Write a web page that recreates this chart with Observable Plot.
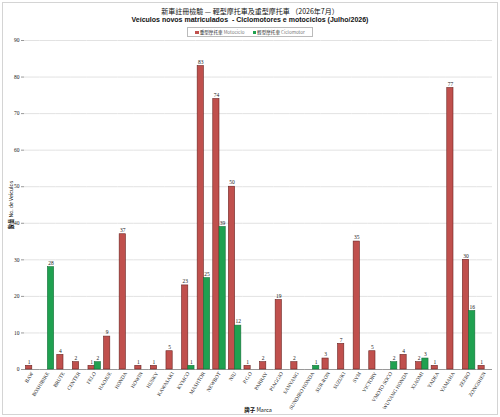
<!DOCTYPE html>
<html><head><meta charset="utf-8">
<script src="https://cdn.jsdelivr.net/npm/d3@7"></script>
<script src="https://cdn.jsdelivr.net/npm/@observablehq/plot@0.6"></script>
<style>
body{margin:0;background:#fff;}
#wrap{position:relative;width:500px;height:417px;overflow:hidden;background:#fff;}
#frame{position:absolute;left:2px;top:2px;width:494px;height:411px;border:1px solid #d4d4d4;}
.t{position:absolute;white-space:nowrap;text-align:center;}
#title{left:0;width:500px;top:6px;font:7px "Noto Sans CJK TC",serif;color:#111;}
#sub{left:0;width:500px;top:16px;font:bold 7px "Liberation Sans",Arial,sans-serif;color:#111;}
#legend{left:187px;top:27px;width:124px;height:8px;border:1px solid #bbb;font:4.6px "Noto Sans CJK TC",sans-serif;line-height:8px;color:#222;display:flex;justify-content:center;gap:8px;}
#legend .sw{display:inline-block;width:3.5px;height:3.5px;margin-right:1px;vertical-align:0px;}
#legend .lat{color:#777;}
#ylab{left:10px;top:205px;transform:translate(-50%,-50%) rotate(-90deg);font:5.2px "Noto Sans CJK TC",sans-serif;color:#111;}
#xlab{left:258px;top:410px;transform:translate(-50%,-50%);font:5.5px "Noto Sans CJK TC",sans-serif;color:#111;}
#chart{position:absolute;left:0;top:37px;}
#chart svg{overflow:visible;}
</style></head><body>
<div id="wrap">
<div id="frame"></div>
<div class="t" id="title">新車註冊檢驗 — 輕型摩托車及重型摩托車 （2026年7月）</div>
<div class="t" id="sub">Veículos novos matriculados&nbsp; - Ciclomotores e motociclos (Julho/2026)</div>
<div class="t" id="legend"></div>
<div class="t" id="ylab"><b>數量</b> No. de Veículos</div>
<div class="t" id="xlab"><b>牌子</b> Marca</div>
<div id="chart"></div>
</div>
<script>
const brands = ["BAW","BOSHIBIKE","BRUTE","CENTER","FELO","HAOJUE","HONDA","HOWIN","HUSKY","KAWASAKI","KYMCO","MASHTOR","NEWBOT","NIU","P.G.O","PARRAY","PIAGGIO","SANYANG","SUNDIRO HONDA","SUR-RON","SUZUKI","SYM","VICTORY","VMOTO SOCO","WUYANG HONDA","XIAOMI","YADEA","YAMAHA","ZEERO","ZONGSHEN"];
const motociclo = [1,null,4,2,1,9,37,1,1,5,23,83,74,50,1,2,19,2,null,3,7,35,5,null,4,2,1,77,30,1];
const ciclomotor = [null,28,null,null,2,null,null,null,null,null,1,25,39,12,null,null,null,null,1,null,null,null,null,2,null,3,null,null,16,null];
const seriesNames = ["Motociclo","Ciclomotor"];
const seriesZh = ["重型摩托車","輕型摩托車"];
const seriesColors = ["#c0504d","#1fa150"];
const seriesStroke = ["#6b2422","#17703a"];
const yTicks = [0,10,20,30,40,50,60,70,80,90];

const data = brands.flatMap((b,i)=>[
  {brand:b,type:seriesNames[0],value:motociclo[i]},
  {brand:b,type:seriesNames[1],value:ciclomotor[i]}
]).filter(d=>d.value!=null);

const leg = document.getElementById("legend");
seriesNames.forEach((s,i)=>{
  const sp = document.createElement("span");
  sp.innerHTML = `<span class="sw" style="background:${seriesColors[i]}"></span>${seriesZh[i]} <span class="lat">${s}</span>`;
  leg.appendChild(sp);
});

const plot = Plot.plot({
  width: 500, height: 372,
  marginTop: 3, marginLeft: 24, marginRight: 8, marginBottom: 40,
  style: {fontFamily: "'Liberation Serif', serif", fontSize: "5.5px", background: "transparent", color:"#222"},
  fx: {domain: brands, padding: 0, round: false, label: null},
  x: {domain: seriesNames, paddingInner: 0, paddingOuter: 0.25, round: false, axis: null},
  y: {domain: [0,90], ticks: yTicks, label: null, line: true},
  color: {domain: seriesNames, range: seriesColors},
  marks: [
    Plot.gridY(yTicks, {stroke:"#e2e2e2", strokeOpacity:1}),
    Plot.axisY(yTicks, {tickSize:3, tickPadding:2, stroke:"#999", label:null}),
    Plot.axisFx({anchor:"bottom", tickRotate:-58, tickSize:0, tickPadding:3, label:null, fontSize:5.2}),
    Plot.ruleY([0], {stroke:"#999"}),
    Plot.barY(data, {fx:"brand", x:"type", y:"value", fill:"type", stroke:d=>seriesStroke[seriesNames.indexOf(d.type)], strokeWidth:0.6}),
    Plot.text(data, {fx:"brand", x:"type", y:"value", text:d=>String(d.value), dy:-4, fontSize:5.5, fill:"#222"})
  ]
});
document.getElementById("chart").appendChild(plot);
</script>
</body></html>
